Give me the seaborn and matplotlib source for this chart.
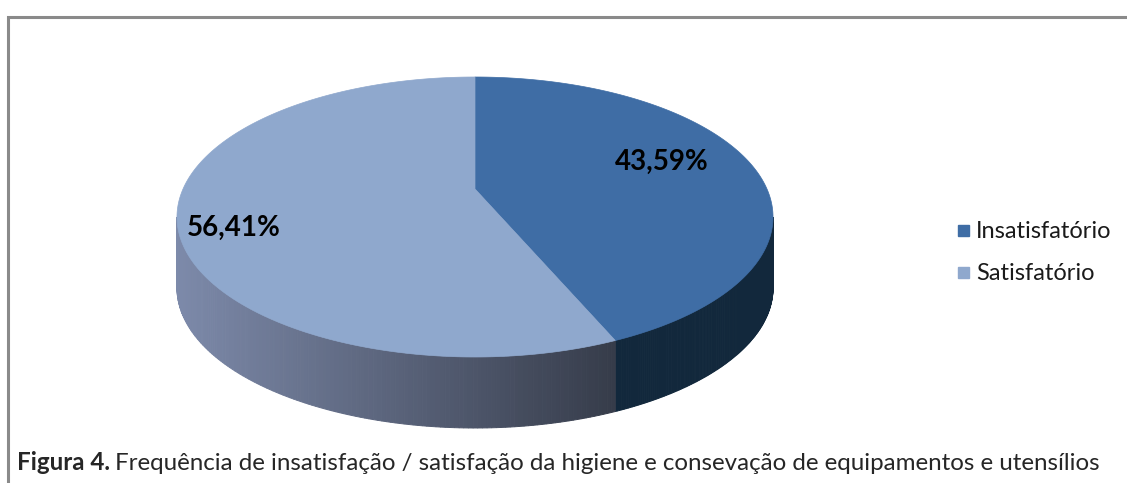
import numpy as np
import matplotlib.pyplot as plt
import seaborn as sns
from matplotlib.colors import to_rgb

# data
categories = ['Insatisfatório', 'Satisfatório']
values = [43.59, 56.41]
value_labels = ['43,59%', '56,41%']
caption_bold = 'Figura 4.'
caption_rest = 'Frequência de insatisfação / satisfação da higiene e consevação de equipamentos e utensílios'

top_colors = ['#3f6da5', '#8fa8cd']
side_colors = [('#12283c', '#12283c'), ('#7d8aaa', '#363c4a')]

sns.set_style('white')
plt.rcParams['font.family'] = ['Lato', 'DejaVu Sans']

fig = plt.figure(figsize=(11.27, 4.83), dpi=100)
ax = fig.add_axes([0, 0, 1, 1])
ax.set_xlim(0, 1127)
ax.set_ylim(483, 0)
ax.axis('off')

# pie geometry in pixels, with a little perspective like the Excel 3-D pie
cx, cy = 475, 217          # centre of the drawn ellipse
sx, sy, lift, k = 292, 140, 28, 0.2
depth = 71


def edge(t):
    r = np.radians(t)
    u, v = np.cos(r), np.sin(r)
    w = 1 + k * v
    return cx + sx * u / w, cy - (sy * v + lift) / w


hub = (cx, cy - lift)

# slice angles: start at 12 o'clock, clockwise
fracs = np.array(values) / sum(values)
ends = 90 - np.cumsum(fracs) * 360
starts = np.concatenate([[90], ends[:-1]])

# visible front wall lies between the two silhouette points
t_left = -180 + np.degrees(np.arcsin(k))
t_right = -np.degrees(np.arcsin(k))
x_left = edge(t_left)[0]
x_split = edge(ends[0])[0]

for i in range(len(values)):
    lo = max(ends[i], t_left)
    hi = min(starts[i], t_right)
    if lo >= hi:
        continue
    c0, c1 = np.array(to_rgb(side_colors[i][0])), np.array(to_rgb(side_colors[i][1]))
    ts = np.linspace(lo, hi, 140)
    for j in range(len(ts) - 1):
        xa, ya = edge(ts[j])
        xb, yb = edge(ts[j + 1])
        f = np.clip(((xa + xb) / 2 - x_left) / (x_split - x_left), 0, 1)
        col = c0 + (c1 - c0) * f
        ax.fill([xa, xb, xb, xa], [ya, yb, yb + depth, ya + depth],
                color=col, lw=0.7, ec=col)

# top face
for i in range(len(values)):
    ts = np.linspace(starts[i], ends[i], 240)
    xs, ys = edge(ts)
    ax.fill(np.concatenate([[hub[0]], xs]), np.concatenate([[hub[1]], ys]),
            color=top_colors[i], lw=0.5, ec=top_colors[i])

# value labels
ax.text(662, 162, value_labels[0], fontsize=20, fontweight='bold',
        ha='center', va='center', color='black')
ax.text(234, 228, value_labels[1], fontsize=20, fontweight='bold',
        ha='center', va='center', color='black')

# legend
for i, name in enumerate(categories):
    y = 231 + i * 42
    ax.add_patch(plt.Rectangle((958, y - 6), 11, 11, color=top_colors[i]))
    ax.text(976, y, name, fontsize=17, va='center', ha='left', color='#1a1a1a')

# frame (left and top edges of the chart box)
ax.plot([8, 8, 1127], [483, 17, 17], color='#8a8a8a', lw=2.2, solid_joinstyle='miter')

# caption
t = ax.text(17, 463, caption_bold, fontsize=17.4, fontweight='bold', va='center', ha='left')
fig.canvas.draw()
bb = t.get_window_extent().transformed(ax.transData.inverted())
ax.text(bb.x1 + 5, 463, caption_rest, fontsize=17.4, va='center', ha='left')

fig.savefig('out.png', dpi=100)
